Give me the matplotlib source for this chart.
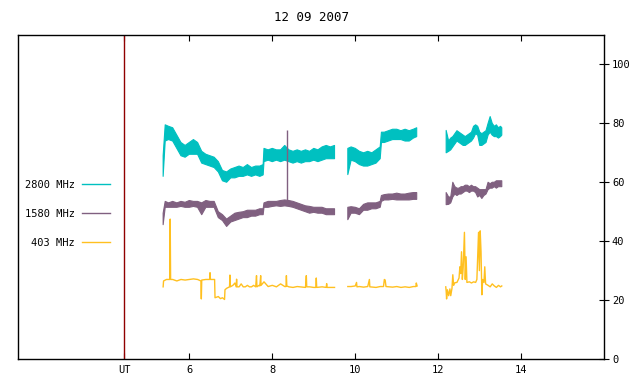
import numpy as np
import matplotlib
matplotlib.use("Agg")
import matplotlib.pyplot as plt

nan = np.nan

# time grid (UT hours) shared by the 2800 and 1580 MHz envelopes, nan = data gap
env_t = [5.37, 5.42, 5.5, 5.6, 5.7, 5.8, 5.9, 6.0, 6.1, 6.2, 6.3, 6.4, 6.5, 6.6, 6.7,
         6.8, 6.9, 7.0, 7.1, 7.2, 7.3, 7.4, 7.5, 7.6, 7.7, 7.78, 7.8, 7.9, 8.0, 8.1,
         8.2, 8.3, 8.4, 8.5, 8.6, 8.7, 8.8, 8.9, 9.0, 9.1, 9.2, 9.3, 9.4, 9.5,
         nan,
         9.82, 9.9, 10.0, 10.1, 10.2, 10.3, 10.4, 10.5, 10.6, 10.63, 10.7, 10.8, 10.9,
         11.0, 11.1, 11.2, 11.3, 11.4, 11.48,
         nan,
         12.19, 12.25, 12.3, 12.35, 12.4, 12.45, 12.5, 12.55, 12.6, 12.65, 12.7, 12.75,
         12.8, 12.85, 12.9, 12.95, 13.0, 13.05, 13.1, 13.15, 13.2, 13.25, 13.3, 13.35,
         13.4, 13.45, 13.5, 13.53]

# 2800 MHz: lower / upper edge of the noisy trace
c2800_lo = [62.0, 74.0, 74.5, 74.0, 71.5, 69.0, 68.5, 69.5, 69.5, 69.5, 66.5, 66.0, 65.5, 65.0, 63.5,
            60.5, 60.0, 61.5, 61.5, 62.0, 62.0, 62.5, 62.0, 62.5, 62.0, 62.5, 67.0, 67.5, 67.0, 67.5,
            67.0, 67.5, 67.0, 66.5, 67.0, 66.5, 67.0, 67.0, 67.5, 67.0, 67.5, 68.0, 68.0, 68.0,
            nan,
            62.6, 67.5, 67.0, 66.0, 65.5, 65.5, 66.0, 66.5, 68.0, 73.5, 73.5, 74.0, 74.5,
            74.5, 74.5, 74.0, 74.0, 75.0, 75.5,
            nan,
            70.0, 70.5, 71.0, 72.0, 73.0, 74.0, 73.5, 73.0, 72.5, 72.5, 73.0, 73.5,
            74.0, 75.0, 76.5, 76.0, 72.5, 72.5, 73.0, 73.5, 76.0, 77.0, 76.0, 75.5,
            75.5, 75.0, 75.5, 76.0]
c2800_hi = [69.0, 79.5, 79.0, 78.5, 76.0, 73.5, 72.5, 73.5, 74.5, 73.5, 70.5, 69.5, 69.0, 68.5, 67.0,
            64.0, 63.5, 64.5, 65.0, 65.5, 65.0, 66.0, 65.0, 65.5, 65.5, 66.0, 71.5, 71.0, 71.5, 71.0,
            71.0, 72.5, 71.0, 70.5, 71.0, 70.5, 71.0, 70.5, 71.5, 71.0, 72.0, 72.5, 72.0, 72.5,
            nan,
            71.5, 72.0, 71.5, 70.5, 70.0, 70.5, 70.0, 71.0, 72.0, 77.0, 77.0, 77.5, 78.0,
            78.0, 77.5, 78.0, 77.5, 78.0, 78.5,
            nan,
            77.6, 74.0, 75.0, 75.5, 76.5, 77.5, 77.0, 76.5, 76.0, 75.5, 76.0, 76.5,
            77.0, 79.0, 79.5, 79.0, 77.0, 76.5, 77.0, 77.5, 80.0, 82.3, 80.0, 79.0,
            79.5, 78.5, 79.0, 78.5]

# 1580 MHz
c1580_lo = [45.6, 51.5, 51.5, 51.5, 51.5, 51.8, 51.5, 51.5, 51.8, 51.5, 49.0, 51.5, 51.5, 51.5, 48.0,
            47.0, 45.0, 46.5, 47.0, 47.5, 48.0, 48.0, 48.5, 48.5, 49.0, 49.0, 51.5, 51.5, 51.8, 52.0,
            51.8, 52.0, 51.8, 51.5, 51.0, 50.5, 50.0, 49.5, 49.8, 49.5, 49.5, 49.0, 49.0, 49.0,
            nan,
            47.3, 49.5, 49.5, 49.0, 50.5, 50.5, 51.0, 51.0, 51.5, 53.5, 54.0, 54.0, 54.2,
            54.0, 54.0, 54.0, 54.0, 54.2, 54.2,
            nan,
            52.4, 52.5, 53.0, 55.0, 56.0, 55.5, 56.0, 56.0, 56.5, 57.0, 57.0, 56.5,
            57.0, 57.0, 56.5, 55.0, 55.5, 54.5, 55.5, 56.0, 57.5, 58.0, 58.0, 58.5,
            58.0, 58.5, 58.5, 58.5]
c1580_hi = [49.5, 53.5, 53.0, 53.5, 53.0, 53.5, 53.2, 53.8, 53.5, 53.5, 53.0, 53.8, 53.5, 53.5, 50.0,
            49.0, 47.5, 48.5, 49.5, 49.8, 50.0, 50.5, 50.5, 50.5, 51.0, 51.0, 53.0, 53.5, 53.5, 53.5,
            53.8, 54.0, 53.8, 53.5, 53.0, 52.5, 52.0, 51.8, 51.5, 51.5, 51.5, 51.0, 51.0, 51.0,
            nan,
            51.5, 51.7, 51.5, 51.0, 52.5, 53.0, 53.0, 53.0, 53.5, 55.5, 55.8, 56.0, 56.0,
            56.3, 56.0, 56.0, 56.3, 56.5, 56.5,
            nan,
            56.5, 55.0, 55.0, 60.0, 58.5, 58.0, 58.0, 58.5, 58.5, 59.0, 59.0, 58.5,
            59.0, 58.5, 58.5, 58.0, 57.5, 57.5, 57.5, 57.5, 60.0, 59.5, 60.0, 60.0,
            60.5, 60.5, 60.5, 60.5]

# single spike on 1580 MHz
spike_t = [8.35]
spike_lo = [52.5]
spike_hi = [77.6]

# 403 MHz
c403_t = [5.37, 5.38, 5.45, 5.53, 5.54, 5.55, 5.6, 5.7, 5.8, 5.9, 6.0, 6.1, 6.2, 6.28, 6.29, 6.3,
          6.4, 6.49, 6.5, 6.51, 6.61, 6.62, 6.7, 6.75, 6.8, 6.85, 6.86, 6.9, 6.97, 6.98, 6.99,
          7.05, 7.1, 7.13, 7.14, 7.15, 7.2, 7.25, 7.3, 7.35, 7.4, 7.45, 7.5, 7.55, 7.6, 7.62,
          7.63, 7.68, 7.7, 7.72, 7.73, 7.8, 7.9, 8.0, 8.1, 8.2, 8.3, 8.33, 8.34, 8.35, 8.4,
          8.5, 8.6, 8.8, 8.82, 8.83, 8.9, 9.0, 9.05, 9.06, 9.07, 9.2, 9.3, 9.31, 9.32, 9.4, 9.5,
          nan,
          9.82, 9.9, 10.0, 10.03, 10.04, 10.1, 10.2, 10.3, 10.34, 10.35, 10.5, 10.6, 10.68,
          10.7, 10.72, 10.74, 10.9, 11.0, 11.1, 11.2, 11.3, 11.4, 11.46, 11.47, 11.49,
          nan,
          12.18, 12.19, 12.2, 12.22, 12.25, 12.28, 12.3, 12.33, 12.35, 12.37, 12.4, 12.45,
          12.5, 12.52, 12.54, 12.56, 12.58, 12.6, 12.63, 12.65, 12.67, 12.69, 12.75, 12.8,
          12.85, 12.9, 12.93, 12.95, 12.97, 12.99, 13.01, 13.03, 13.05, 13.07, 13.1, 13.12,
          13.14, 13.2, 13.25, 13.3, 13.35, 13.4, 13.45, 13.5, 13.53]
c403_v = [24.5, 26.5, 27.0, 27.0, 47.5, 27.0, 27.0, 26.5, 27.0, 26.8, 27.0, 27.2, 27.0, 26.5, 20.4, 26.8,
          27.0, 27.0, 29.3, 27.0, 27.0, 20.8, 21.2, 20.5, 20.8, 20.2, 23.5, 24.0, 24.5, 28.5, 24.5,
          25.0, 25.8, 24.5, 27.1, 24.5, 24.5, 25.5, 24.5, 24.5, 25.0, 24.5, 24.5, 25.0, 24.5, 28.3,
          24.5, 25.0, 24.8, 28.3, 25.0, 26.2, 24.6, 25.0, 24.5, 25.5, 24.6, 24.6, 28.3, 24.8, 24.5,
          24.3, 24.6, 24.3, 28.3, 24.5, 24.5, 24.3, 24.3, 27.5, 24.3, 24.5, 24.3, 25.6, 24.3, 24.3, 24.3,
          nan,
          24.6, 24.6, 24.8, 26.0, 24.5, 24.6, 24.4, 24.6, 27.0, 24.5, 24.3, 24.6, 24.6,
          27.0, 26.8, 24.6, 24.4, 24.6, 24.3, 24.5, 24.3, 24.6, 24.6, 25.8, 24.8,
          nan,
          24.5, 23.0, 20.4, 23.5, 21.5, 23.8, 21.5, 24.0, 28.6, 25.0, 25.9, 26.0,
          27.5, 31.3, 29.0, 36.4, 27.0, 31.0, 43.0, 27.0, 34.7, 26.0, 26.2, 25.8,
          26.2, 26.0, 27.0, 34.7, 43.0, 30.0, 43.5, 36.4, 21.8, 27.0, 26.0, 31.3,
          25.5, 25.0, 24.5, 25.5, 24.8, 24.3, 25.0, 24.5, 24.8]

legend_labels = ["2800 MHz", "1580 MHz", "403 MHz"]
colors = ["#00c0c0", "#806080", "#ffc020"]

ut_mark = 4.43
x_ticks = [6, 8, 10, 12, 14]
y_ticks = [0, 20, 40, 60, 80, 100]

plt.rcParams["font.family"] = ["DejaVu Sans Mono"]
plt.rcParams["font.size"] = 7.5

fig = plt.figure(figsize=(6.4, 3.84), dpi=100)
ax = fig.add_axes([0.0286, 0.0651, 0.9156, 0.8438])

ax.fill_between(env_t, c2800_lo, c2800_hi, color=colors[0], lw=0.8)
ax.fill_between(env_t, c1580_lo, c1580_hi, color=colors[1], lw=0.8)
ax.vlines(spike_t, spike_lo, spike_hi, color=colors[1], lw=1)
ax.plot(c403_t, c403_v, color=colors[2], lw=1)

# legend entries (text left of the sample line, as gnuplot does)
handles = [plt.Line2D([], [], color=c, lw=1) for c in colors]
ax.legend(handles, legend_labels, loc="upper right", bbox_to_anchor=(0.157, 0.552),
          frameon=False, markerfirst=False, handlelength=2.7, handletextpad=0.7,
          labelspacing=1.8, borderpad=0, borderaxespad=0)

ax.axvline(ut_mark, color="#900000", lw=1)

ax.set_xlim(1.88, 16.0)
ax.set_ylim(0, 110)

ax.set_xticks([ut_mark] + x_ticks)
ax.set_xticklabels(["UT"] + [str(v) for v in x_ticks])
ax.tick_params(axis="x", direction="in", length=4, top=True, pad=4)

ax.yaxis.tick_right()
ax.set_yticks(y_ticks)
ax.tick_params(axis="y", direction="inout", length=7, left=False, right=True, pad=2)

for s in ax.spines.values():
    s.set_linewidth(1)

ax.set_title("12 09 2007", pad=10)

fig.savefig("out.png", dpi=100)
